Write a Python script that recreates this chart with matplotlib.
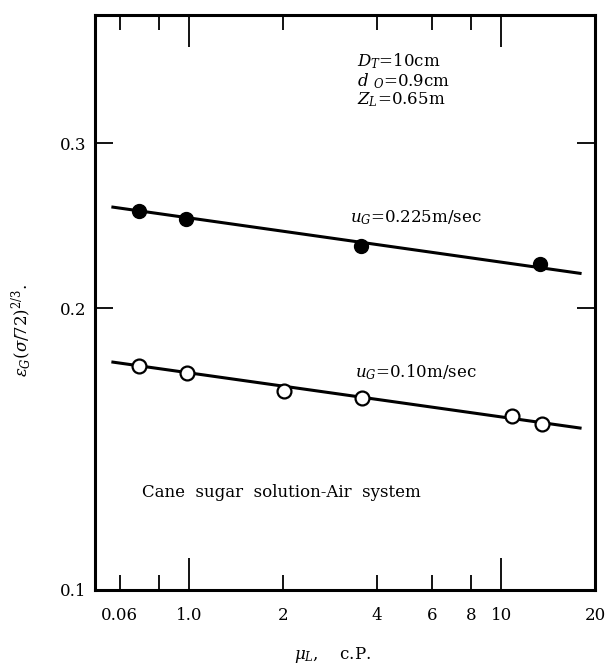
import matplotlib
matplotlib.use("Agg")
import matplotlib.pyplot as plt
from matplotlib.ticker import FixedLocator, FixedFormatter, NullFormatter

plt.rcParams['font.family'] = 'DejaVu Serif'
plt.rcParams['mathtext.fontset'] = 'dejavuserif'

# Data: u_G = 0.225 m/sec (filled)
mu_high = [0.69, 0.98, 3.55, 13.3]
eps_high = [0.254, 0.249, 0.233, 0.223]
fit_high_x = [0.57, 17.9]
fit_high_y = [0.2563, 0.2178]

# Data: u_G = 0.10 m/sec (open)
mu_low = [0.69, 0.985, 2.01, 3.57, 10.8, 13.5]
eps_low = [0.1734, 0.1704, 0.1631, 0.1603, 0.1534, 0.1504]
fit_low_x = [0.57, 17.9]
fit_low_y = [0.1751, 0.1489]

x_major = [1, 10]
x_minor = [0.6, 0.8, 2, 4, 6, 8, 20]
x_labels = [(0.6, "0.06"), (1, "1.0"), (2, "2"), (4, "4"), (6, "6"), (8, "8"), (10, "10"), (20, "20")]
y_ticks = [0.1, 0.2, 0.3]
y_labels = ["0.1", "0.2", "0.3"]

fig = plt.figure(figsize=(6.06, 6.68), dpi=100)
ax = fig.add_axes([0.157, 0.1168, 0.825, 0.8607])
ax.set_xscale('log')
ax.set_yscale('log')
ax.set_xlim(0.5, 20)
ax.set_ylim(0.1, 0.411)

ax.plot(fit_high_x, fit_high_y, color='black', lw=2.2)
ax.plot(fit_low_x, fit_low_y, color='black', lw=2.2)
ax.plot(mu_high, eps_high, 'o', color='black', ms=10, zorder=3)
ax.plot(mu_low, eps_low, 'o', mfc='white', mec='black', mew=1.6, ms=10, zorder=3)

for s in ax.spines.values():
    s.set_linewidth(2.2)

ax.xaxis.set_major_locator(FixedLocator(x_major))
ax.xaxis.set_minor_locator(FixedLocator(x_minor))
ax.xaxis.set_major_formatter(NullFormatter())
ax.xaxis.set_minor_formatter(NullFormatter())
ax.tick_params(axis='x', which='major', direction='in', length=23, width=1.3, top=True, bottom=True)
ax.tick_params(axis='x', which='minor', direction='in', length=11, width=1.3, top=True, bottom=True)
for xv, lab in x_labels:
    ax.text(xv, -0.03, lab, transform=ax.get_xaxis_transform(), ha='center', va='top', fontsize=12)

ax.yaxis.set_major_locator(FixedLocator(y_ticks))
ax.yaxis.set_major_formatter(FixedFormatter(y_labels))
ax.yaxis.set_minor_locator(FixedLocator([]))
ax.tick_params(axis='y', which='major', direction='in', length=13, width=1.3, left=True, right=True,
               labelsize=12, pad=6)

ax.text(0.524, 0.92, r"$D_T$=10cm", transform=ax.transAxes, fontsize=12, va='center')
ax.text(0.524, 0.885, r"$d$ $_O$=0.9cm", transform=ax.transAxes, fontsize=12, va='center')
ax.text(0.524, 0.852, r"$Z_L$=0.65m", transform=ax.transAxes, fontsize=12, va='center')
ax.text(0.51, 0.647, r"$u_G$=0.225m/sec", transform=ax.transAxes, fontsize=12, va='center')
ax.text(0.52, 0.379, r"$u_G$=0.10m/sec", transform=ax.transAxes, fontsize=12, va='center')
ax.text(0.094, 0.17, "Cane  sugar  solution-Air  system", transform=ax.transAxes, fontsize=12, va='center')

fig.text(22 / 606, 1 - 330 / 668, r"$\varepsilon_G(\sigma/72)^{2/3}$.", rotation=90,
         ha='center', va='center', fontsize=12)
fig.text(332 / 606, 1 - 655 / 668, r"$\mu_L$,    c.P.", ha='center', va='center', fontsize=12)

fig.savefig("out.png", dpi=100)
